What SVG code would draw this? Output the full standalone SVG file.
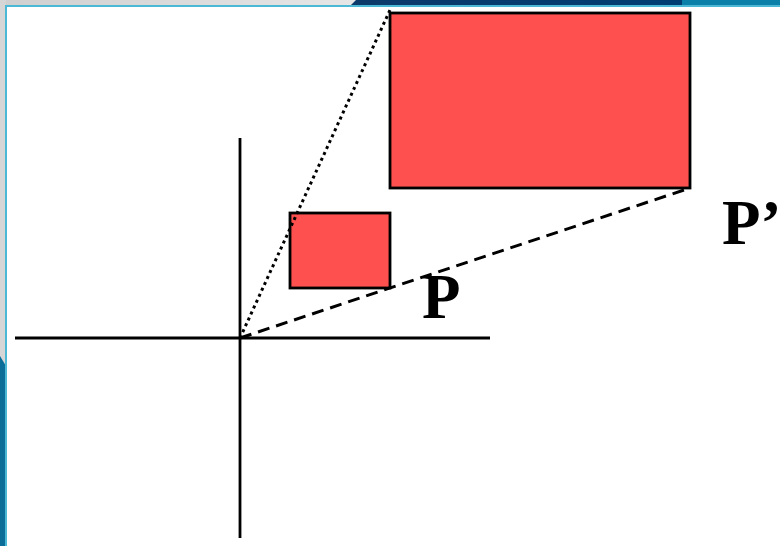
<svg xmlns="http://www.w3.org/2000/svg" width="780" height="546" viewBox="0 0 780 546">
<defs>
<linearGradient id="topGray" x1="0" y1="0" x2="1" y2="0">
<stop offset="0" stop-color="#cfcfcf"/>
<stop offset="1" stop-color="#e6e6e6"/>
</linearGradient>
<linearGradient id="topBlue" x1="0" y1="0" x2="1" y2="0">
<stop offset="0" stop-color="#0c3a6a"/>
<stop offset="1" stop-color="#003e72"/>
</linearGradient>
<style>
.axis{stroke:#000;stroke-width:2.8;fill:none}
.box{fill:#ff5050;stroke:#000;stroke-width:2.8}
.lbl{font-family:"Liberation Serif","Times New Roman",serif;font-weight:bold;font-size:63px;fill:#000}
</style>
</defs>
<g id="frame">
<rect x="0" y="0" width="780" height="546" fill="#ffffff"/>
<rect x="0" y="0" width="356" height="6" fill="url(#topGray)"/>
<path d="M356,0 L682,0 L682,6 L350,6 Z" fill="url(#topBlue)"/>
<rect x="682" y="0" width="98" height="6" fill="#0a80a8"/>
<rect x="0" y="0" width="6" height="546" fill="#d6d6d6"/>
<path d="M0,356 L6,366 L6,546 L0,546 Z" fill="#0a6e98"/>
<rect x="5" y="5" width="775" height="2" fill="#4bb8d6"/>
<rect x="5" y="5" width="2" height="541" fill="#4bb8d6"/>
</g>
<g id="axes">
<line class="axis" x1="15" y1="338" x2="490" y2="338"/>
<line class="axis" x1="240" y1="138" x2="240" y2="538"/>
</g>
<g id="P-box">
<rect class="box" x="290" y="213" width="100" height="75"/>
</g>
<g id="Pprime-box">
<rect class="box" x="390" y="13" width="300" height="175"/>
</g>
<g id="connectors">
<line x1="240" y1="338" x2="390" y2="10" stroke="#000" stroke-width="3" stroke-dasharray="3 3.5"/>
<line x1="240" y1="338" x2="690" y2="188" stroke="#000" stroke-width="3" stroke-dasharray="12 7"/>
</g>
<g id="label-P">
<text class="lbl" x="422" y="318">P</text>
</g>
<g id="label-Pprime">
<text class="lbl" x="722" y="244">P’</text>
</g>
</svg>
